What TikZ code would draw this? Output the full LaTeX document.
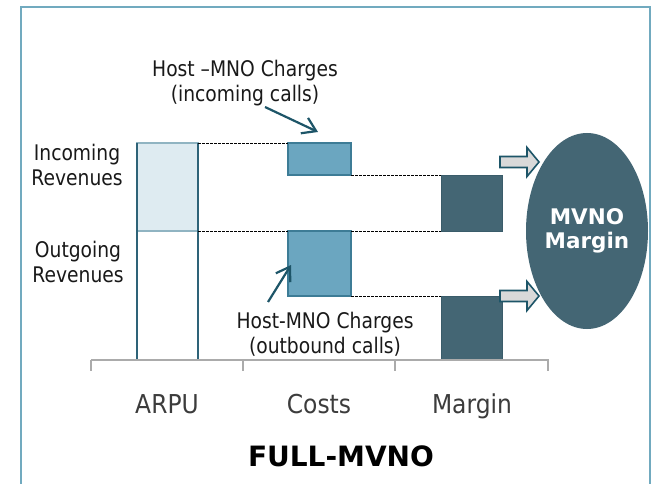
\documentclass[tikz,border=0pt]{standalone}
\usepackage{fontspec}
\setmainfont{DejaVu Sans}
\newfontfamily\notefont[FakeStretch=0.87]{DejaVu Sans}
\newfontfamily\axisfont[FakeStretch=0.9]{DejaVu Sans}
\usetikzlibrary{arrows.meta,shapes.geometric}

\definecolor{frameblue}{HTML}{71AABF}
\definecolor{arpufill}{HTML}{DEEBF1}
\definecolor{arpuedge}{HTML}{90B4C2}
\definecolor{arpuside}{HTML}{2E6378}
\definecolor{costfill}{HTML}{6BA6C0}
\definecolor{costedge}{HTML}{3D7C96}
\definecolor{marginfill}{HTML}{446674}
\definecolor{marginedge}{HTML}{3A5C6A}
\definecolor{calloutcol}{HTML}{1D5568}
\definecolor{arrowgray}{HTML}{D9D9D9}
\definecolor{axisgray}{HTML}{ABABAB}
\definecolor{labelgray}{HTML}{3C3C3C}

\tikzset{
  bar/.style={anchor=north west, inner sep=0pt, outer sep=0pt},
  arpubox/.style={bar, fill=arpufill, draw=arpuedge, line width=1.2pt},
  costbox/.style={bar, fill=costfill, draw=costedge, line width=1.5pt},
  marginbox/.style={bar, fill=marginfill, draw=marginedge, line width=1pt},
  guide/.style={draw=black, line width=0.7pt, dash pattern=on 2.5pt off 1.5pt},
  callout/.style={draw=calloutcol, line width=2.2pt,
    -{Straight Barb[length=13pt,width=17pt,line width=2.2pt]}},
  blockarrow/.style={fill=arrowgray, draw=calloutcol, line width=1.6pt, line join=miter},
  axisline/.style={draw=axisgray, line width=1.5pt},
  note/.style={font=\notefont\fontsize{21.5}{25}\selectfont, align=center,
    inner sep=0pt, text=black!90, anchor=center},
  axislabel/.style={font=\axisfont\fontsize{26}{30}\selectfont, inner sep=0pt,
    text=labelgray, anchor=base},
}

\begin{document}
\begin{tikzpicture}[x=1pt,y=-1pt]
\useasboundingbox (0,0) rectangle (656,484);
\fill[white] (0,0) rectangle (656,484);

% open frame
\draw[frameblue, line width=2pt] (21,484) -- (21,7) -- (650,7) -- (650,484);

% ARPU column
\node[arpubox, minimum width=61pt, minimum height=88pt] (arpuIn) at (137,143) {};
\node[bar, minimum width=61pt, minimum height=129pt] (arpuOut) at (137,231) {};
\draw[arpuside, line width=1.5pt] (arpuIn.north west) -- (arpuOut.south west);
\draw[arpuside, line width=1.5pt] (arpuIn.north east) -- (arpuOut.south east);

% cost boxes
\node[costbox, minimum width=63pt, minimum height=32pt] (costIn) at (288,143) {};
\node[costbox, minimum width=63pt, minimum height=65pt] (costOut) at (288,231) {};

% margin boxes
\node[marginbox, minimum width=61pt, minimum height=56pt] (marIn) at (441,175) {};
\node[marginbox, minimum width=61pt, minimum height=64pt] (marOut) at (441,296) {};

% dashed guides
\draw[guide] (arpuIn.north east) -- (costIn.north west);
\draw[guide] (arpuOut.north east) -- (costOut.north west);
\draw[guide] (costIn.south east) -- (marIn.north west);
\draw[guide] (costOut.north east) -- (marIn.south west);
\draw[guide] (costOut.south east) -- (marOut.north west);

% axis with ticks
\coordinate (axL) at (91,360);
\coordinate (axR) at (549,360);
\draw[axisline] (axL) -- (axR);
\foreach \tx in {91,243,395,548}
  \draw[axisline] (\tx,360) -- (\tx,371);

% margin ellipse
\node[ellipse, minimum width=122pt, minimum height=196pt, inner sep=0pt,
      fill=marginfill, text=white, align=center,
      font=\fontsize{21.5}{23.5}\selectfont\bfseries] (mvno) at (587,231)
      {MVNO\\Margin};

% block arrows into the ellipse
\coordinate (upTail) at (500,162);
\coordinate (loTail) at (500,296);
\foreach \c in {upTail,loTail}
  \draw[blockarrow] (\c) ++(0,-5.5) -- ++(27,0) -- ++(0,-9) -- ++(12,14.5)
    -- ++(-12,14.5) -- ++(0,-9) -- ++(-27,0) -- cycle;

% text labels
\node[note] (inRev) at (77,164.5) {Incoming\\Revenues};
\node[note] (outRev) at (78,262) {Outgoing\\Revenues};
\node[note] (hostIn) at (245,83.5) {Host –MNO Charges\\(incoming calls)};
\node[note] (hostOut) at (325,334.5) {Host-MNO Charges\\(outbound calls)};

% callout arrows
\coordinate (inTail) at (265,107);
\coordinate (inTip) at (318,132);
\draw[callout] (inTail) -- (inTip);
\coordinate (outTail) at (268,302);
\coordinate (outTip) at (291,265);
\draw[callout] (outTail) -- (outTip);

% category labels
\node[axislabel] (lblArpu) at (167,413) {ARPU};
\node[axislabel] (lblCost) at (319,413) {Costs};
\node[axislabel] (lblMar) at (472,413) {Margin};

% title
\node[font=\fontsize{28}{32}\selectfont\bfseries, anchor=base, inner sep=0pt]
  (title) at (341,466) {FULL-MVNO};
\end{tikzpicture}
\end{document}
